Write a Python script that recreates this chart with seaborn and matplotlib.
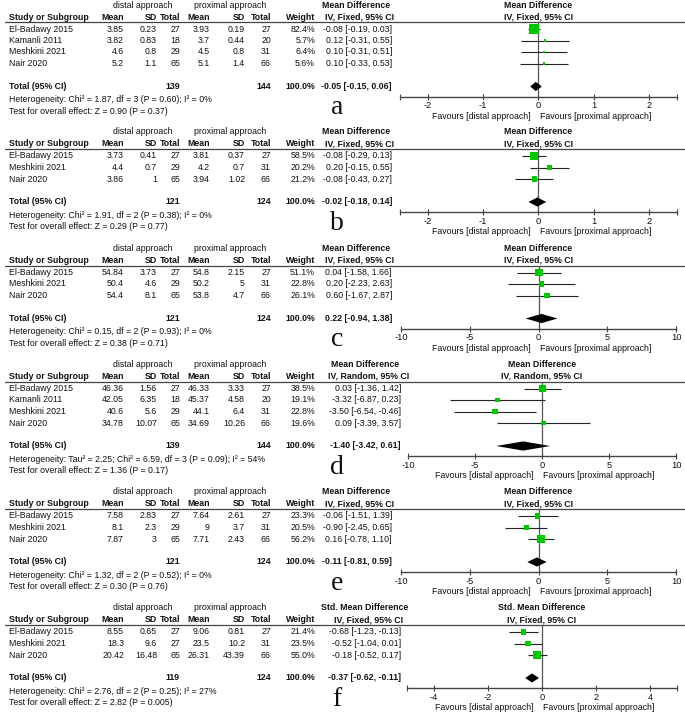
import matplotlib
matplotlib.use('Agg')
import matplotlib.pyplot as plt
import seaborn as sns

# ---- data ----
studies4 = ['El-Badawy 2015', 'Kamanli 2011', 'Meshkini 2021', 'Nair 2020']
studies3 = ['El-Badawy 2015', 'Meshkini 2021', 'Nair 2020']

# (mean, SD, total) as printed
a_distal = [('3.85', '0.23', '27'), ('3.82', '0.83', '18'), ('4.6', '0.8', '29'), ('5.2', '1.1', '65')]
a_proximal = [('3.93', '0.19', '27'), ('3.7', '0.44', '20'), ('4.5', '0.8', '31'), ('5.1', '1.4', '66')]
a_weight = [82.4, 5.7, 6.4, 5.6]
a_md = [-0.08, 0.12, 0.10, 0.10]
a_lo = [-0.19, -0.31, -0.31, -0.33]
a_hi = [0.03, 0.55, 0.51, 0.53]
a_total = (139, 144, -0.05, -0.15, 0.06)
a_het = 'Heterogeneity: Chi² = 1.87, df = 3 (P = 0.60); I² = 0%'
a_test = 'Test for overall effect: Z = 0.90 (P = 0.37)'

b_distal = [('3.73', '0.41', '27'), ('4.4', '0.7', '29'), ('3.86', '1', '65')]
b_proximal = [('3.81', '0.37', '27'), ('4.2', '0.7', '31'), ('3.94', '1.02', '66')]
b_weight = [58.5, 20.2, 21.2]
b_md = [-0.08, 0.20, -0.08]
b_lo = [-0.29, -0.15, -0.43]
b_hi = [0.13, 0.55, 0.27]
b_total = (121, 124, -0.02, -0.18, 0.14)
b_het = 'Heterogeneity: Chi² = 1.91, df = 2 (P = 0.38); I² = 0%'
b_test = 'Test for overall effect: Z = 0.29 (P = 0.77)'

c_distal = [('54.84', '3.73', '27'), ('50.4', '4.6', '29'), ('54.4', '8.1', '65')]
c_proximal = [('54.8', '2.15', '27'), ('50.2', '5', '31'), ('53.8', '4.7', '66')]
c_weight = [51.1, 22.8, 26.1]
c_md = [0.04, 0.20, 0.60]
c_lo = [-1.58, -2.23, -1.67]
c_hi = [1.66, 2.63, 2.87]
c_total = (121, 124, 0.22, -0.94, 1.38)
c_het = 'Heterogeneity: Chi² = 0.15, df = 2 (P = 0.93); I² = 0%'
c_test = 'Test for overall effect: Z = 0.38 (P = 0.71)'

d_distal = [('46.36', '1.56', '27'), ('42.05', '6.35', '18'), ('40.6', '5.6', '29'), ('34.78', '10.07', '65')]
d_proximal = [('46.33', '3.33', '27'), ('45.37', '4.58', '20'), ('44.1', '6.4', '31'), ('34.69', '10.26', '66')]
d_weight = [38.5, 19.1, 22.8, 19.6]
d_md = [0.03, -3.32, -3.50, 0.09]
d_lo = [-1.36, -6.87, -6.54, -3.39]
d_hi = [1.42, 0.23, -0.46, 3.57]
d_total = (139, 144, -1.40, -3.42, 0.61)
d_het = 'Heterogeneity: Tau² = 2.25; Chi² = 6.59, df = 3 (P = 0.09); I² = 54%'
d_test = 'Test for overall effect: Z = 1.36 (P = 0.17)'

e_distal = [('7.58', '2.83', '27'), ('8.1', '2.3', '29'), ('7.87', '3', '65')]
e_proximal = [('7.64', '2.61', '27'), ('9', '3.7', '31'), ('7.71', '2.43', '66')]
e_weight = [23.3, 20.5, 56.2]
e_md = [-0.06, -0.90, 0.16]
e_lo = [-1.51, -2.45, -0.78]
e_hi = [1.39, 0.65, 1.10]
e_total = (121, 124, -0.11, -0.81, 0.59)
e_het = 'Heterogeneity: Chi² = 1.32, df = 2 (P = 0.52); I² = 0%'
e_test = 'Test for overall effect: Z = 0.30 (P = 0.76)'

f_distal = [('8.55', '0.65', '27'), ('18.3', '9.6', '27'), ('20.42', '16.48', '65')]
f_proximal = [('9.06', '0.81', '27'), ('23.5', '10.2', '31'), ('26.31', '43.39', '66')]
f_weight = [21.4, 23.5, 55.0]
f_md = [-0.68, -0.52, -0.18]
f_lo = [-1.23, -1.04, -0.52]
f_hi = [-0.13, 0.01, 0.17]
f_total = (119, 124, -0.37, -0.62, -0.11)
f_het = 'Heterogeneity: Chi² = 2.76, df = 2 (P = 0.25); I² = 27%'
f_test = 'Test for overall effect: Z = 2.82 (P = 0.005)'

panels = [
    dict(letter='a', studies=studies4, distal=a_distal, proximal=a_proximal, weight=a_weight,
         md=a_md, lo=a_lo, hi=a_hi, total=a_total, het=a_het, test=a_test,
         measure='Mean Difference', method='IV, Fixed, 95% CI',
         xlim=(-2.5, 2.5), ticks=[-2, -1, 0, 1, 2], top=0, x0=400, x1=677, mdr=392),
    dict(letter='b', studies=studies3, distal=b_distal, proximal=b_proximal, weight=b_weight,
         md=b_md, lo=b_lo, hi=b_hi, total=b_total, het=b_het, test=b_test,
         measure='Mean Difference', method='IV, Fixed, 95% CI',
         xlim=(-2.5, 2.5), ticks=[-2, -1, 0, 1, 2], top=127, x0=400, x1=677, mdr=392),
    dict(letter='c', studies=studies3, distal=c_distal, proximal=c_proximal, weight=c_weight,
         md=c_md, lo=c_lo, hi=c_hi, total=c_total, het=c_het, test=c_test,
         measure='Mean Difference', method='IV, Fixed, 95% CI',
         xlim=(-10, 10), ticks=[-10, -5, 0, 5, 10], top=243.5, x0=401, x1=676, mdr=392),
    dict(letter='d', studies=studies4, distal=d_distal, proximal=d_proximal, weight=d_weight,
         md=d_md, lo=d_lo, hi=d_hi, total=d_total, het=d_het, test=d_test,
         measure='Mean Difference', method='IV, Random, 95% CI',
         xlim=(-10, 10), ticks=[-10, -5, 0, 5, 10], top=359.5, x0=408, x1=676, mdr=401),
    dict(letter='e', studies=studies3, distal=e_distal, proximal=e_proximal, weight=e_weight,
         md=e_md, lo=e_lo, hi=e_hi, total=e_total, het=e_het, test=e_test,
         measure='Mean Difference', method='IV, Fixed, 95% CI',
         xlim=(-10, 10), ticks=[-10, -5, 0, 5, 10], top=487, x0=401, x1=676, mdr=392),
    dict(letter='f', studies=studies3, distal=f_distal, proximal=f_proximal, weight=f_weight,
         md=f_md, lo=f_lo, hi=f_hi, total=f_total, het=f_het, test=f_test,
         measure='Std. Mean Difference', method='IV, Fixed, 95% CI',
         xlim=(-5, 5), ticks=[-4, -2, 0, 2, 4], top=603, x0=407, x1=677, mdr=401),
]

W, H = 685, 713
ROW = 11.5
FS = 6.3
GREEN = '#00c800'

sns.set_theme(style='white')
plt.rcParams['font.family'] = ['Liberation Sans', 'DejaVu Sans']
plt.rcParams['axes.unicode_minus'] = False

fig = plt.figure(figsize=(W / 100, H / 100), dpi=100)
canvas = fig.add_axes([0, 0, 1, 1])
canvas.set_xlim(0, W)
canvas.set_ylim(H, 0)
canvas.axis('off')


def put(x, y, s, ha='left', bold=False):
    canvas.text(x, y, s, ha=ha, va='center', fontsize=FS, color='#111111',
                fontweight='bold' if bold else 'normal')


def fmt_ci(m, l, h):
    return f'{m:.2f} [{l:.2f}, {h:.2f}]'


for p in panels:
    T = p['top']
    n = len(p['studies'])
    mdr = p['mdr']
    mdc = mdr - 36
    plot_c = (p['x0'] + p['x1']) / 2

    # headers
    put(143, T + 5, 'distal approach', ha='center')
    put(230, T + 5, 'proximal approach', ha='center')
    put(mdc, T + 5, p['measure'], ha='center', bold=True)
    put(plot_c, T + 5, p['measure'], ha='center', bold=True)
    put(9, T + 17, 'Study or Subgroup', bold=True)
    for x, s in [(124, 'Mean'), (157, 'SD'), (180, 'Total'), (210, 'Mean'),
                 (245, 'SD'), (271, 'Total'), (315, 'Weight')]:
        put(x, T + 17, s, ha='right', bold=True)
    put(mdc + 4, T + 17, p['method'], ha='center', bold=True)
    put(plot_c, T + 17, p['method'], ha='center', bold=True)
    canvas.plot([5, W], [T + 22, T + 22], color='#444444', lw=0.9)

    # study rows
    for i, name in enumerate(p['studies']):
        y = T + 29 + ROW * i
        put(9, y, name)
        dm, dsd, dn = p['distal'][i]
        pm, psd, pn = p['proximal'][i]
        for x, s in [(124, dm), (157, dsd), (180, dn), (210, pm), (245, psd), (271, pn)]:
            put(x, y, s, ha='right')
        put(315, y, f"{p['weight'][i]:.1f}%", ha='right')
        put(mdr, y, fmt_ci(p['md'][i], p['lo'][i], p['hi'][i]), ha='right')

    # total rows
    n1, n2, tm, tl, th = p['total']
    yt = T + 29 + ROW * (n + 1)
    put(9, yt, 'Total (95% CI)', bold=True)
    put(180, yt, str(n1), ha='right', bold=True)
    put(271, yt, str(n2), ha='right', bold=True)
    put(315, yt, '100.0%', ha='right', bold=True)
    put(mdr, yt, fmt_ci(tm, tl, th), ha='right', bold=True)
    put(9, yt + 13, p['het'])
    put(9, yt + 24.5, p['test'])
    canvas.text(337, yt + 28, p['letter'], ha='center', va='baseline', fontsize=20,
                family=['Liberation Serif', 'DejaVu Serif'], color='#111111')

    # forest plot axes
    y_top = T + 22
    y_axis = yt + 10
    ax = fig.add_axes([p['x0'] / W, 1 - y_axis / H, (p['x1'] - p['x0']) / W, (y_axis - y_top) / H])
    ax.patch.set_alpha(0)
    rows = list(range(n))
    ax.axvline(0, color='#555555', lw=0.9, zorder=1)
    ax.hlines(rows, p['lo'], p['hi'], color='#222222', lw=0.8, zorder=2)
    sns.scatterplot(x=p['md'], y=rows, size=p['weight'], sizes=(0, 62), size_norm=(0, 100),
                    marker='s', color=GREEN, linewidth=0, legend=False, ax=ax, zorder=3)
    r = n + 1
    ax.fill([tl, tm, th, tm], [r, r - 0.4, r, r + 0.4], color='black', lw=0, zorder=3)
    ax.set_xlim(*p['xlim'])
    ax.set_ylim(n + 1 + 10 / ROW, -7 / ROW)
    ax.set_yticks([])
    ax.set_xticks(p['ticks'])
    ax.set_xticklabels([str(t) for t in p['ticks']])
    ax.set_xticks(list(p['xlim']), minor=True)
    for side in ['top', 'left', 'right']:
        ax.spines[side].set_visible(False)
    ax.spines['bottom'].set_color('#444444')
    ax.spines['bottom'].set_linewidth(1.0)
    ax.tick_params(axis='x', which='both', direction='inout', length=4, width=0.8,
                   color='#444444', pad=1.5, labelsize=FS + 0.4, labelcolor='#111111',
                   bottom=True)
    ax.set_xlabel('')
    ax.set_ylabel('')
    ax.annotate('Favours [distal approach]', xy=(0, 0), xycoords=('data', 'axes fraction'),
                xytext=(-6, -14.4), textcoords='offset points', ha='right', va='center',
                fontsize=FS, color='#111111', annotation_clip=False)
    ax.annotate('Favours [proximal approach]', xy=(0, 0), xycoords=('data', 'axes fraction'),
                xytext=(1, -14.4), textcoords='offset points', ha='left', va='center',
                fontsize=FS, color='#111111', annotation_clip=False)

fig.savefig('out.png', dpi=100)
